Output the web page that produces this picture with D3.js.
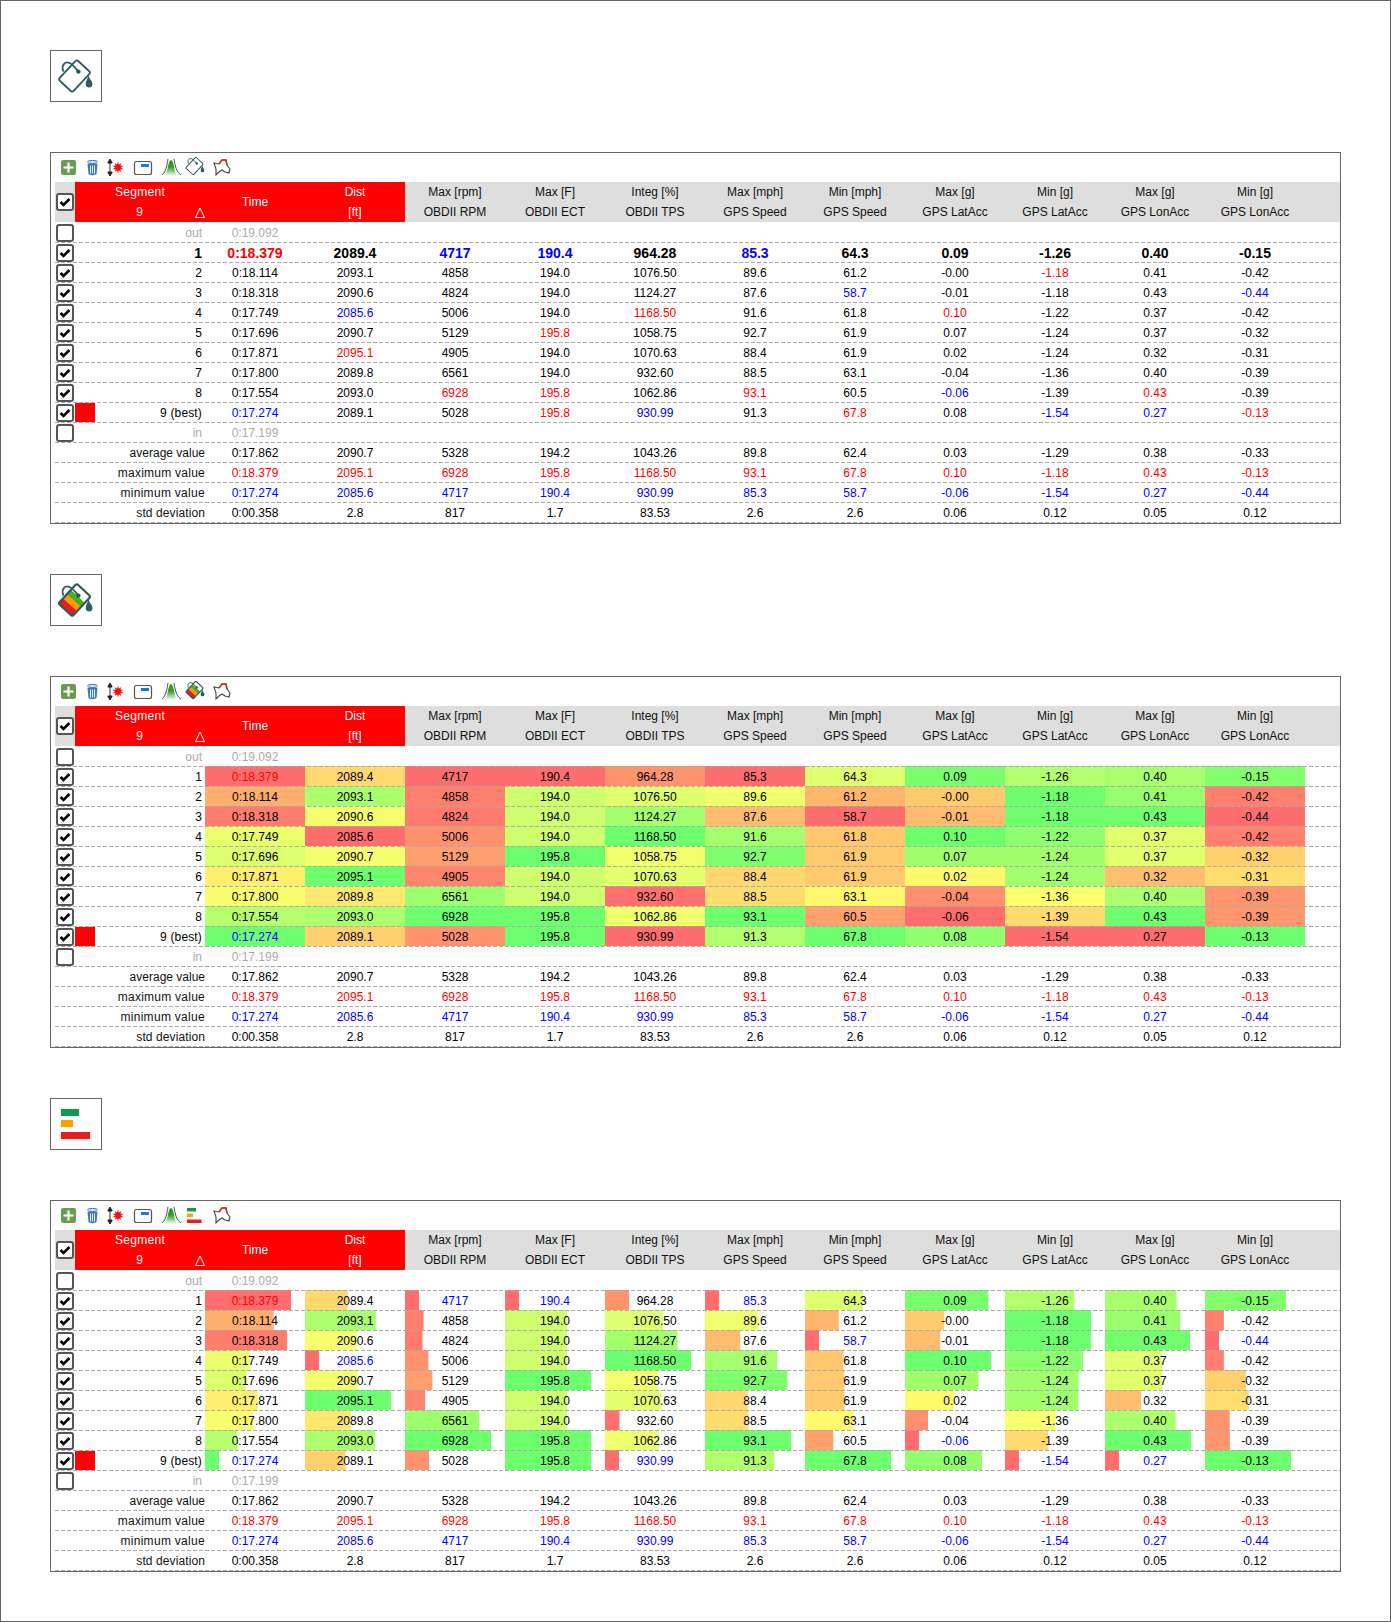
<!DOCTYPE html>
<html>
<head>
<meta charset="utf-8">
<script src="https://cdn.jsdelivr.net/npm/d3@7"></script>
<style>
  html, body { margin: 0; padding: 0; background: #fff; }
  svg { display: block; }
  text { font-family: "Liberation Sans", Arial, sans-serif; font-size: 12px; }
</style>
</head>
<body>
<svg id="chart" width="1391" height="1622"></svg>
<script>
const lapLabels = ["1", "2", "3", "4", "5", "6", "7", "8", "9 (best)"];
const statLabels = ["average value", "maximum value", "minimum value", "std deviation"];

const timeValues = [18.379, 18.114, 18.318, 17.749, 17.696, 17.871, 17.8, 17.554, 17.274];
const distValues = [2089.4, 2093.1, 2090.6, 2085.6, 2090.7, 2095.1, 2089.8, 2093.0, 2089.1];
const rpmValues = [4717, 4858, 4824, 5006, 5129, 4905, 6561, 6928, 5028];
const ectValues = [190.4, 194.0, 194.0, 194.0, 195.8, 194.0, 194.0, 195.8, 195.8];
const tpsValues = [964.28, 1076.5, 1124.27, 1168.5, 1058.75, 1070.63, 932.6, 1062.86, 930.99];
const maxSpeedValues = [85.3, 89.6, 87.6, 91.6, 92.7, 88.4, 88.5, 93.1, 91.3];
const minSpeedValues = [64.3, 61.2, 58.7, 61.8, 61.9, 61.9, 63.1, 60.5, 67.8];
const maxLatValues = [0.094, -0.004, -0.013, 0.1, 0.072, 0.018, -0.04, -0.06, 0.08];
const minLatValues = [-1.264, -1.18, -1.181, -1.22, -1.243, -1.244, -1.356, -1.394, -1.54];
const maxLonValues = [0.398, 0.406, 0.428, 0.366, 0.366, 0.319, 0.396, 0.43, 0.27];
const minLonValues = [-0.152, -0.419, -0.44, -0.419, -0.324, -0.311, -0.394, -0.393, -0.13];

const headerTop = ["Max [rpm]", "Max [F]", "Integ [%]", "Max [mph]", "Min [mph]", "Max [g]", "Min [g]", "Max [g]", "Min [g]"];
const headerBottom = ["OBDII RPM", "OBDII ECT", "OBDII TPS", "GPS Speed", "GPS Speed", "GPS LatAcc", "GPS LatAcc", "GPS LonAcc", "GPS LonAcc"];

const averageRow = ["0:17.862", "2090.7", "5328", "194.2", "1043.26", "89.8", "62.4", "0.03", "-1.29", "0.38", "-0.33"];
const maximumRow = ["0:18.379", "2095.1", "6928", "195.8", "1168.50", "93.1", "67.8", "0.10", "-1.18", "0.43", "-0.13"];
const minimumRow = ["0:17.274", "2085.6", "4717", "190.4", "930.99", "85.3", "58.7", "-0.06", "-1.54", "0.27", "-0.44"];
const stdRow = ["0:00.358", "2.8", "817", "1.7", "83.53", "2.6", "2.6", "0.06", "0.12", "0.05", "0.12"];

const columns = [
  { values: timeValues, digits: 3, prefix: "0:", inverted: true },
  { values: distValues, digits: 1 },
  { values: rpmValues, digits: 0 },
  { values: ectValues, digits: 1 },
  { values: tpsValues, digits: 2 },
  { values: maxSpeedValues, digits: 1 },
  { values: minSpeedValues, digits: 1 },
  { values: maxLatValues, digits: 2 },
  { values: minLatValues, digits: 2 },
  { values: maxLonValues, digits: 2 },
  { values: minLonValues, digits: 2 }
];

const RED = "#ff0000", BLUE = "#0000ff", GREY = "#aaaaaa", DARK = "#666666", TEAL = "#2e5a63";

const rowKeys = ["out"].concat(lapLabels, ["in"], statLabels);
const yRow = d3.scaleBand().domain(rowKeys).range([222, 522]);
const xCol = d3.scaleBand().domain(d3.range(columns.length)).range([205, 1305]);
const heat = d3.scaleLinear()
  .domain([0, 0.4, 0.5, 1])
  .range(["#ff6e6e", "#ffd86e", "#ffff6e", "#6eff6e"]);

columns.forEach((c) => {
  c.min = d3.min(c.values);
  c.max = d3.max(c.values);
  c.t = d3.scaleLinear().domain(c.inverted ? [c.max, c.min] : [c.min, c.max]).range([0, 1]);
  c.barWidth = d3.scaleLinear().domain([c.min, c.max]).range([14, 86]);
  c.label = (v) => (c.prefix || "") + v.toFixed(c.digits);
});

const svg = d3.select("#chart");

svg.append("rect")
  .attr("x", 0.5).attr("y", 0.5).attr("width", 1390).attr("height", 1621)
  .attr("fill", "#fff").attr("stroke", DARK);

const defs = svg.append("defs");
const bell = defs.append("linearGradient").attr("id", "bell-fill").attr("x1", 0).attr("x2", 0).attr("y1", 0).attr("y2", 1);
bell.append("stop").attr("offset", "45%").attr("stop-color", "#3a9a20");
bell.append("stop").attr("offset", "100%").attr("stop-color", "#ffffff");

// paint bucket, tilted, optionally filled with the heat colours
let clipCount = 0;
function bucket(g, cx, cy, s, colored) {
  const b = g.append("g").attr("transform", `translate(${cx},${cy}) scale(${s})`);
  const body = b.append("g").attr("transform", "rotate(43)");
  if (colored) {
    const id = "bucket-clip-" + clipCount++;
    defs.append("clipPath").attr("id", id)
      .append("rect").attr("x", -9.5).attr("y", -13.5).attr("width", 19).attr("height", 27).attr("rx", 2);
    const fill = body.append("g").attr("clip-path", `url(#${id})`);
    fill.append("rect").attr("x", -10).attr("y", -5).attr("width", 20).attr("height", 6).attr("fill", "#4fae14");
    fill.append("rect").attr("x", -10).attr("y", 1).attr("width", 20).attr("height", 5.5).attr("fill", "#ff9800");
    fill.append("rect").attr("x", -10).attr("y", 6.5).attr("width", 20).attr("height", 7).attr("fill", "#e91c1c");
  }
  body.append("rect")
    .attr("x", -9.5).attr("y", -13.5).attr("width", 19).attr("height", 27).attr("rx", 2)
    .attr("fill", "none").attr("stroke", TEAL).attr("stroke-width", colored ? 2.2 : 1.8);
  b.append("path")
    .attr("d", "M-11,-4.4 C-14,-11 -9,-15 -5,-13 C-2,-12 1,-8 3.9,-4.4")
    .attr("fill", "none").attr("stroke", TEAL).attr("stroke-width", 1.8);
  b.append("circle").attr("cx", 3.9).attr("cy", -4.4).attr("r", 2.2).attr("fill", TEAL);
  b.append("path")
    .attr("d", "M14,-0.5 C15,3 18,5 18,8 A3.4,3.4 0 0 1 11.2,8 C11.2,5 13,3 14,-0.5 Z")
    .attr("fill", TEAL);
}

function barsIcon(g, x, y, s) {
  const b = g.append("g").attr("transform", `translate(${x},${y}) scale(${s})`);
  [[18, "#0f9a50", 0], [12, "#ff9f00", 11], [29, "#ec1c1c", 23]].forEach(([w, color, top]) => {
    b.append("rect").attr("x", 0).attr("y", top).attr("width", w).attr("height", 7).attr("fill", color);
  });
}

function drawToolbar(g, mode) {
  // add
  g.append("rect").attr("x", 61).attr("y", 160).attr("width", 15).attr("height", 15).attr("rx", 2).attr("fill", "#6a9c50");
  g.append("path").attr("d", "M68.5,162.5 V172.5 M63.5,167.5 H73.5").attr("stroke", "#fff").attr("stroke-width", 2.2);
  // trash
  g.append("ellipse").attr("cx", 92.5).attr("cy", 162).attr("rx", 5).attr("ry", 1.6).attr("fill", "#cfe0f5").attr("stroke", "#3b78c8");
  g.append("path").attr("d", "M87.5,164 L88.5,174 Q92.5,176.5 96.5,174 L97.5,164 Z").attr("fill", "#3b78c8");
  g.append("path").attr("d", "M90.5,165.5 V173.5 M92.5,165.5 V173.5 M94.5,165.5 V173.5").attr("stroke", "#fff").attr("stroke-width", 0.9);
  // resize + star
  g.append("path").attr("d", "M110,161 V174 M107.8,163 L110,159 L112.2,163 Z M107.8,172 L110,176 L112.2,172 Z").attr("stroke", "#222").attr("fill", "#222");
  g.append("path").attr("d", d3.symbol().type(d3.symbolStar).size(36)()).attr("transform", "translate(118,167.5)").attr("fill", "#f01010");
  g.append("path").attr("d", d3.symbol().type(d3.symbolStar).size(36)()).attr("transform", "translate(118,167.5) rotate(36)").attr("fill", "#f01010");
  // window
  g.append("rect").attr("x", 134.5).attr("y", 161.5).attr("width", 17).attr("height", 13).attr("rx", 2).attr("fill", "#fff").attr("stroke", "#555").attr("stroke-width", 1.2);
  g.append("rect").attr("x", 141).attr("y", 164).attr("width", 8).attr("height", 3).attr("fill", "#2a78b8");
  // bell curve
  g.append("path").attr("d", "M165,176 C168,172 168,160 171,160 C174,160 174,172 177,176 Z").attr("fill", "url(#bell-fill)");
  g.append("path").attr("d", "M162,175 C166,172 167,165 168,159 M181,175 C176,172 175,165 174,159").attr("fill", "none").attr("stroke", "#2e5a63");
  // current fill mode
  if (mode === "plain") bucket(g, 194.5, 166, 0.55, false);
  if (mode === "heat") bucket(g, 194.5, 166, 0.55, true);
  if (mode === "bars") barsIcon(g, 187, 160, 0.5);
  // track
  g.append("path").attr("d", "M214,163 L219,164 L222,160 L226,160 L227,165 L230,169 L229,173 L225,172 L222,170 L219,172 L216,175 L216,169 Z")
    .attr("fill", "#fff").attr("stroke", "#444").attr("stroke-width", 1.1);
  g.append("path").attr("d", "M219,164 L222,160 L226,160 L227,165").attr("fill", "none").attr("stroke", "#e02020").attr("stroke-width", 1.5);
}

function drawCheck(g, y, checked) {
  g.append("rect")
    .attr("x", 57).attr("y", y - 8).attr("width", 16).attr("height", 16).attr("rx", 2)
    .attr("fill", "#fff").attr("stroke", "#555").attr("stroke-width", 2);
  if (checked) {
    g.append("path")
      .attr("d", `M60.5,${y} l3,3 l6,-6`)
      .attr("fill", "none").attr("stroke", "#000").attr("stroke-width", 2.6);
  }
}

function cellColor(mode, col, i) {
  const v = col.values[i];
  if (mode === "plain") return v === col.max ? RED : v === col.min ? BLUE : "#000";
  if (col.inverted) return v === col.max ? RED : v === col.min ? BLUE : "#000";
  if (mode === "bars") return v === col.min ? BLUE : "#000";
  return "#000";
}

function drawPanel(offset, mode) {
  const g = svg.append("g").attr("transform", `translate(0,${offset})`);

  // mode button
  g.append("rect").attr("x", 50.5).attr("y", 50.5).attr("width", 51).attr("height", 51)
    .attr("fill", "#fff").attr("stroke", DARK);
  if (mode === "plain") bucket(g, 74.5, 76, 1, false);
  if (mode === "heat") bucket(g, 74.5, 76, 1, true);
  if (mode === "bars") barsIcon(g, 61, 61, 1);

  g.append("rect").attr("x", 50.5).attr("y", 152.5).attr("width", 1290).attr("height", 371)
    .attr("fill", "#fff").attr("stroke", DARK);

  drawToolbar(g, mode);

  // header
  g.append("rect").attr("x", 55).attr("y", 182).attr("width", 1285).attr("height", 40).attr("fill", "#dedede");
  g.append("rect").attr("x", 75).attr("y", 182).attr("width", 330).attr("height", 40).attr("fill", RED);
  drawCheck(g, 202, true);

  const headLabel = (x, y, s, fill) => g.append("text")
    .attr("x", x).attr("y", y).attr("text-anchor", "middle").attr("fill", fill).text(s);
  headLabel(140, 196, "Segment", "#fff").style("letter-spacing", "0.3px");
  headLabel(139.5, 216, "9", "#fff");
  headLabel(255, 206, "Time", "#fff");
  headLabel(355, 196, "Dist", "#fff");
  headLabel(355, 216, "[ft]", "#fff");
  g.append("path").attr("d", "M200,208 L195.5,217.5 H204.5 Z").attr("fill", "none").attr("stroke", "#fff");

  g.selectAll(".head-top").data(headerTop).join("text")
    .attr("x", (d, i) => xCol(i + 2) + xCol.bandwidth() / 2).attr("y", 196)
    .attr("text-anchor", "middle").attr("fill", "#111").text((d) => d);
  g.selectAll(".head-bottom").data(headerBottom).join("text")
    .attr("x", (d, i) => xCol(i + 2) + xCol.bandwidth() / 2).attr("y", 216)
    .attr("text-anchor", "middle").attr("fill", "#111").text((d) => d);

  // heat cells or bars
  if (mode !== "plain") {
    columns.forEach((col, c) => {
      g.selectAll(null).data(col.values).join("rect")
        .attr("x", xCol(c))
        .attr("y", (d, i) => yRow(lapLabels[i]))
        .attr("width", (d) => (mode === "heat" ? xCol.bandwidth() : col.barWidth(d)))
        .attr("height", yRow.bandwidth())
        .attr("fill", (d) => heat(col.t(d)));
    });
  }

  // dashed separators
  g.selectAll(".sep").data(rowKeys).join("line")
    .attr("x1", 55).attr("x2", 1340)
    .attr("y1", (d) => yRow(d) + yRow.bandwidth() + 0.5)
    .attr("y2", (d) => yRow(d) + yRow.bandwidth() + 0.5)
    .attr("stroke", "#aaaaaa").attr("stroke-dasharray", "4,2");

  // check boxes
  ["out"].concat(lapLabels, ["in"]).forEach((k) => {
    drawCheck(g, yRow(k) + 11, k !== "out" && k !== "in");
  });
  g.append("rect").attr("x", 75).attr("y", yRow("9 (best)") + 1).attr("width", 20).attr("height", 19).attr("fill", RED);

  // row labels
  const baseline = (k) => yRow(k) + 15;
  const isBold = (i) => mode === "plain" && i === 0;
  ["out", "in"].forEach((k) => {
    g.append("text").attr("x", 202).attr("y", baseline(k)).attr("text-anchor", "end").attr("fill", GREY).text(k);
  });
  g.append("text").attr("x", xCol(0) + 50).attr("y", baseline("out")).attr("text-anchor", "middle").attr("fill", GREY).text("0:19.092");
  g.append("text").attr("x", xCol(0) + 50).attr("y", baseline("in")).attr("text-anchor", "middle").attr("fill", GREY).text("0:17.199");

  g.selectAll(".lap").data(lapLabels).join("text")
    .attr("x", 202).attr("y", (d, i) => baseline(d) + (isBold(i) ? 1 : 0))
    .attr("text-anchor", "end")
    .style("font-size", (d, i) => (isBold(i) ? "14px" : null))
    .style("font-weight", (d, i) => (isBold(i) ? "bold" : null))
    .style("letter-spacing", (d, i) => (i === 8 ? "0.15px" : null))
    .text((d) => d);

  const statSpacing = d3.scaleOrdinal().domain(statLabels).range(["0px", "0.25px", "0.3px", "0.1px"]);
  g.selectAll(".stat").data(statLabels).join("text")
    .attr("x", 205).attr("y", (d) => baseline(d))
    .attr("text-anchor", "end").attr("fill", "#111")
    .style("letter-spacing", (d) => statSpacing(d))
    .text((d) => d);

  // lap values
  columns.forEach((col, c) => {
    g.selectAll(null).data(col.values).join("text")
      .attr("x", xCol(c) + xCol.bandwidth() / 2)
      .attr("y", (d, i) => baseline(lapLabels[i]) + (isBold(i) ? 1 : 0))
      .attr("text-anchor", "middle")
      .attr("fill", (d, i) => cellColor(mode, col, i))
      .style("font-size", (d, i) => (isBold(i) ? "14px" : null))
      .style("font-weight", (d, i) => (isBold(i) ? "bold" : null))
      .text((d) => col.label(d));
  });

  // summary values
  [[averageRow, "#000"], [maximumRow, RED], [minimumRow, BLUE], [stdRow, "#000"]].forEach(([row, color], r) => {
    g.selectAll(null).data(row).join("text")
      .attr("x", (d, i) => xCol(i) + xCol.bandwidth() / 2)
      .attr("y", baseline(statLabels[r]))
      .attr("text-anchor", "middle")
      .attr("fill", color)
      .text((d) => d);
  });
}

drawPanel(0, "plain");
drawPanel(524, "heat");
drawPanel(1048, "bars");
</script>
</body>
</html>
